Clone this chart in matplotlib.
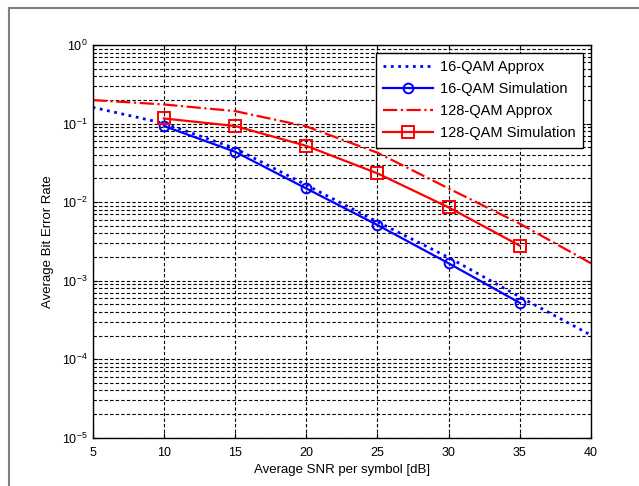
import numpy as np
import matplotlib
matplotlib.use('Agg')
import matplotlib.pyplot as plt
from matplotlib.lines import Line2D
from matplotlib.ticker import LogLocator, NullFormatter

plt.rcParams['font.family'] = ['Liberation Sans', 'DejaVu Sans']
plt.rcParams['mathtext.default'] = 'regular'

# SNR grid (dB)
snr_approx = [5, 10, 15, 20, 25, 30, 35, 40]
snr_sim = [10, 15, 20, 25, 30, 35]

# bit error rates
ber16_approx = [0.161, 0.1007, 0.0483, 0.0165, 0.0056, 0.00197, 0.00062, 0.000202]
ber16_sim = [0.093, 0.0437, 0.0149, 0.0051, 0.00166, 0.00052]
ber128_approx = [0.199, 0.175, 0.144, 0.092, 0.0425, 0.0149, 0.0053, 0.00166]
ber128_sim = [0.116, 0.093, 0.052, 0.0232, 0.00855, 0.00278]

fig = plt.figure(figsize=(6.39, 4.86), dpi=100)
ax = fig.add_axes([0.145, 0.0994, 0.78, 0.808])

ax.semilogy(snr_approx, ber16_approx, ':', color='blue', lw=2.0,
            label='16-QAM Approx')
ax.semilogy(snr_sim, ber16_sim, '-o', color='blue', lw=1.6, ms=7,
            mfc='none', mew=1.4, label='16-QAM Simulation')
ax.semilogy(snr_approx, ber128_approx, '-.', color='red', lw=1.6,
            label='128-QAM Approx')
ax.semilogy(snr_sim, ber128_sim, '-s', color='red', lw=1.6, ms=8,
            mfc='none', mew=1.4, label='128-QAM Simulation')

ax.set_xlim(5, 40)
ax.set_ylim(1e-5, 1)
ax.set_xticks(range(5, 41, 5))
ax.yaxis.set_major_locator(LogLocator(base=10, numticks=10))
ax.yaxis.set_minor_locator(LogLocator(base=10, subs=np.arange(2, 10), numticks=20))
ax.yaxis.set_minor_formatter(NullFormatter())

ax.grid(True, which='major', ls=(0, (3, 2)), color='black', lw=0.8)
ax.grid(True, which='minor', axis='y', ls=(0, (3, 2)), color='black', lw=0.8)
ax.tick_params(which='both', direction='in', labelsize=9, top=True, right=True)
ax.tick_params(axis='x', pad=7)
ax.tick_params(which='minor', length=2)
for s in ax.spines.values():
    s.set_linewidth(1.0)

ax.set_xlabel('Average SNR per symbol [dB]', fontsize=9.5, labelpad=3)
ax.set_ylabel('Average Bit Error Rate', fontsize=9.5, labelpad=6)

leg = ax.legend(loc='upper right', fontsize=10.5, numpoints=1, fancybox=False,
                framealpha=1, edgecolor='black', handlelength=3.4,
                borderaxespad=0.55, labelspacing=0.55, handletextpad=0.5,
                borderpad=0.5)
leg.get_frame().set_linewidth(1.0)

# outer frame lines
fig.add_artist(Line2D([9 / 639, 1], [1 - 8 / 486, 1 - 8 / 486],
                      transform=fig.transFigure, color='#808080', lw=1.5))
fig.add_artist(Line2D([9 / 639, 9 / 639], [0, 1 - 8 / 486],
                      transform=fig.transFigure, color='#808080', lw=1.5))

fig.savefig('out.png', dpi=100)
